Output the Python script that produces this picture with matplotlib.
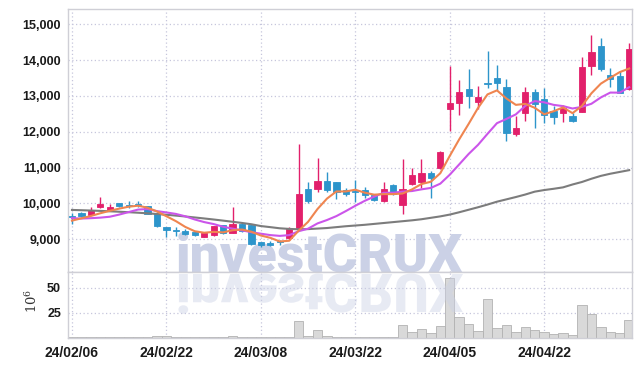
import matplotlib
matplotlib.use('Agg')
import matplotlib.pyplot as plt
import numpy as np
from matplotlib.textpath import TextPath
from matplotlib.patches import PathPatch
from matplotlib.font_manager import FontProperties
from matplotlib.transforms import Affine2D
from matplotlib.ticker import FuncFormatter

# Daily candles, one per trading day (index axis)
opens = [9650, 9740, 9680, 9890, 9800, 10010, 9960, 9990, 9920, 9740,
         9340, 9260, 9220, 9210, 9070, 9110, 9390, 9190, 9440, 9410,
         8920, 8910, 8960, 9040, 9310, 10400, 10400, 10630, 10600, 10390,
         10350, 10370, 10240, 10080, 10520, 9950, 10540, 10610, 10860, 10980,
         12630, 12800, 13200, 12840, 13360, 13500, 13240, 11940, 12520, 13100,
         12920, 12590, 12530, 12450, 12560, 13850, 14400, 13590, 13560, 13190]
highs = [9740, 9750, 9890, 10170, 9990, 10020, 10070, 10060, 9930, 9750,
         9350, 9330, 9280, 9220, 9180, 9380, 9400, 9890, 9450, 9420,
         8930, 8950, 8970, 9330, 11650, 10590, 11260, 10870, 10610, 10440,
         10660, 10450, 10250, 10590, 10530, 11230, 10980, 11230, 10900, 11460,
         13840, 13450, 13740, 13280, 14260, 13870, 13460, 12440, 13260, 13200,
         13230, 12710, 12760, 12520, 14100, 14690, 14610, 13790, 13700, 14470]
lows = [9420, 9610, 9670, 9880, 9790, 9910, 9870, 9910, 9700, 9330,
        9060, 9100, 9120, 9100, 9060, 9100, 9160, 9180, 9210, 8850,
        8780, 8820, 8840, 8990, 9300, 10020, 10330, 10310, 10130, 10220,
        10050, 10160, 10060, 10050, 10250, 9710, 10520, 10420, 10150, 10970,
        12020, 12470, 12660, 12630, 13210, 13170, 11740, 11880, 12310, 12100,
        12240, 12220, 12260, 12280, 12550, 13590, 13700, 13260, 13070, 13180]
closes = [9620, 9650, 9820, 9990, 9900, 9920, 9920, 9960, 9710, 9380,
          9250, 9240, 9150, 9110, 9170, 9370, 9170, 9440, 9220, 8860,
          8840, 8850, 8930, 9320, 10260, 10080, 10640, 10380, 10320, 10260,
          10320, 10230, 10100, 10400, 10260, 10400, 10800, 10850, 10720, 11450,
          12810, 13110, 13010, 12960, 13330, 13370, 11980, 12120, 13100, 12780,
          12470, 12400, 12660, 12290, 13800, 14220, 13750, 13480, 13080, 14300]

# volume, millions of shares
volumes = [0.3, 0.3, 0.4, 0.5, 0.3, 0.3, 0.3, 0.3, 0.4, 1.3,
           1.3, 0.4, 0.3, 0.3, 0.5, 0.5, 0.6, 1.7, 0.7, 0.7,
           0.7, 0.4, 0.4, 0.8, 16.2, 1.8, 7.9, 2.0, 1.0, 1.0,
           1.0, 1.0, 1.0, 1.0, 1.0, 12.2, 5.5, 8.2, 4.4, 11.3,
           60.0, 20.9, 13.3, 6.5, 38.5, 9.6, 12.3, 5.5, 10.6, 7.5,
           5.5, 3.4, 4.4, 2.4, 32.8, 23.8, 10.6, 5.5, 4.4, 17.4]

# moving averages as drawn on the chart
ma5 = [9521, 9586, 9651, 9727, 9796, 9856, 9910, 9938, 9882, 9778,
       9644, 9508, 9346, 9226, 9184, 9208, 9194, 9252, 9274, 9212,
       9106, 9042, 8940, 8960, 9240, 9488, 9846, 10136, 10336, 10336,
       10384, 10302, 10246, 10262, 10262, 10278, 10392, 10542, 10606, 10844,
       11326, 11788, 12220, 12668, 13044, 13156, 12930, 12752, 12780, 12670,
       12490, 12574, 12682, 12520, 12724, 13074, 13344, 13508, 13666, 13766]
ma10 = [9590, 9580, 9590, 9605, 9630, 9690, 9760, 9830, 9845, 9787,
        9750, 9709, 9642, 9554, 9481, 9426, 9351, 9299, 9250, 9198,
        9157, 9118, 9096, 9117, 9226, 9297, 9444, 9538, 9648, 9788,
        9936, 10074, 10191, 10299, 10299, 10331, 10347, 10394, 10434, 10553,
        10802, 11090, 11381, 11637, 11944, 12241, 12359, 12486, 12724, 12857,
        12823, 12752, 12717, 12650, 12697, 12782, 12959, 13095, 13093, 13245]
ma_long = [9820, 9812, 9803, 9793, 9782, 9770, 9757, 9742, 9725, 9706,
           9685, 9662, 9637, 9610, 9582, 9553, 9522, 9490, 9457, 9420,
           9370, 9340, 9308, 9290, 9280, 9285, 9300, 9315, 9340, 9365,
           9385, 9405, 9430, 9455, 9480, 9505, 9530, 9560, 9600, 9640,
           9690, 9755, 9825, 9895, 9970, 10050, 10115, 10180, 10250, 10330,
           10375, 10410, 10450, 10530, 10600, 10690, 10770, 10830, 10880, 10930]

tick_labels = ['24/02/06', '24/02/22', '24/03/08', '24/03/22', '24/04/05', '24/04/22']
price_ticks = [9000, 10000, 11000, 12000, 13000, 14000, 15000]
vol_ticks = [25, 50]

UP = '#E2206B'
DOWN = '#2D95CB'
GRID = '#C6C6DC'
FRAME = '#CFCFD6'
TICKFONT = ['Liberation Sans', 'DejaVu Sans']

plt.rcParams['mathtext.fontset'] = 'dejavuserif'

fig = plt.figure(figsize=(6.42, 3.66), dpi=100)
ax = fig.add_axes([68 / 642, 1 - 271.5 / 366, 564 / 642, 262.5 / 366])
axv = fig.add_axes([68 / 642, 1 - 337.5 / 366, 564 / 642, 66 / 366])

x = np.arange(len(closes))
o = np.array(opens)
c = np.array(closes)
up = c >= o
colors = [UP if u else DOWN for u in up]

# watermark behind the data
wm_font = FontProperties(family=['Roboto', 'DejaVu Sans'], weight='black', size=38.5)
ax.text(176 / 642, 1 - 272 / 366, 'investCRUX', transform=fig.transFigure,
        fontproperties=wm_font, color='#CBD1E6', ha='left', va='baseline', zorder=1)

# candles
ax.vlines(x, lows, highs, colors=colors, lw=1.0, zorder=3)
body_lo = np.minimum(o, c)
body_h = np.maximum(np.abs(c - o), 25)
ax.bar(x, body_h, bottom=body_lo, width=0.66, color=colors, edgecolor=colors,
       lw=0.6, zorder=4)

ax.plot(x, ma_long, color='#7C7C7C', lw=1.5, zorder=5)
ax.plot(x, ma10, color='#CB55EA', lw=1.5, zorder=5)
ax.plot(x, ma5, color='#EF8550', lw=1.5, zorder=5)

ax.set_xlim(-0.42, 59.3)
ax.set_ylim(8102, 15427)
ax.set_yticks(price_ticks)
ax.yaxis.set_major_formatter(FuncFormatter(lambda v, p: '{:,.0f}'.format(v)))
ax.set_xticks(np.arange(0, len(closes), 10))
ax.set_xticklabels([])

# volume bars
axv.bar(x, volumes, width=1.0, color='#D9D9D9', edgecolor='#B2B2B2', lw=0.6, zorder=2)
axv.set_xlim(-0.42, 59.3)
axv.set_ylim(0, 66)
axv.set_yticks(vol_ticks)
axv.set_xticks(np.arange(0, len(closes), 10))
axv.set_xticklabels(tick_labels)
axv.text(-0.064, 0.55, r'$10^{6}$', transform=axv.transAxes, rotation=90,
         ha='center', va='center', fontsize=9.5, color='#333333')

# mirrored watermark in the volume panel
tp = TextPath((0, 0), 'investCRUX', size=38.5 * 100 / 72, prop=wm_font)
refl = PathPatch(tp, transform=Affine2D().scale(1, -1).translate(176, 366 - 274),
                 facecolor='#CBD1E6', edgecolor='none', alpha=0.45, zorder=3)
refl.set_clip_on(False)
axv.add_artist(refl)

for a in (ax, axv):
    a.set_facecolor('white')
    a.grid(True, color=GRID, ls=(0, (1, 2)), lw=0.9)
    a.set_axisbelow(True)
    for s in a.spines.values():
        s.set_color(FRAME)
        s.set_linewidth(1.0)
    a.tick_params(length=0, pad=5)
    for lab in a.get_yticklabels() + a.get_xticklabels():
        lab.set_family(TICKFONT)
        lab.set_fontweight('bold')
        lab.set_color('#1A1A1A')

for lab in ax.get_yticklabels():
    lab.set_fontsize(9)
for lab in axv.get_yticklabels():
    lab.set_fontsize(9)
for lab in axv.get_xticklabels():
    lab.set_fontsize(10)
axv.tick_params(axis='x', pad=6)

fig.savefig('out.png', dpi=100, facecolor='white')
